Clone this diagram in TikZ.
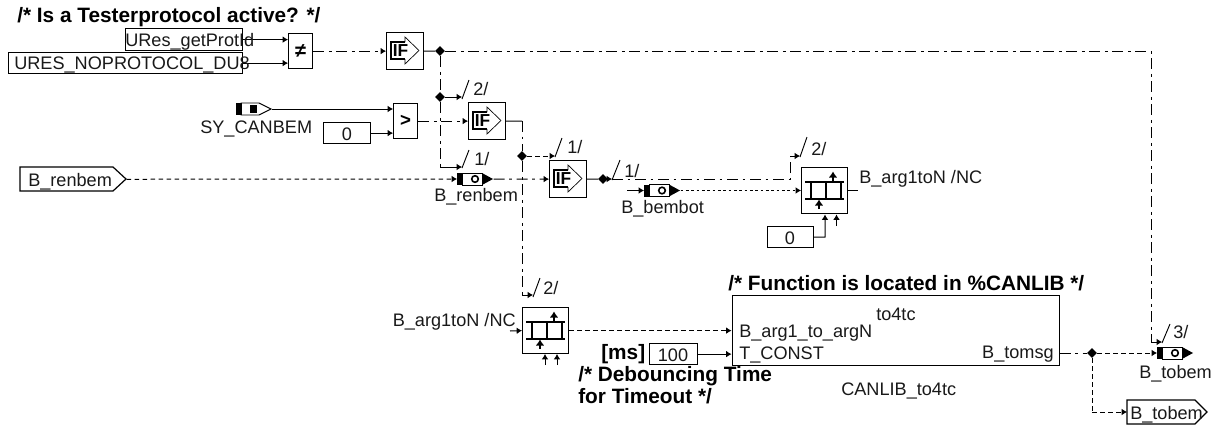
\documentclass[tikz,border=0pt]{standalone}
\usepackage{fontspec}
\setmainfont{Liberation Sans}
\usetikzlibrary{arrows.meta,shapes.geometric}
\tikzset{
  px/.style={x=0.75pt,y=-0.75pt},
  wire/.style={line width=0.75pt,draw=black},
  dd/.style={wire,dash pattern=on 8.25pt off 3.5pt on 2pt off 3.5pt},
  das/.style={wire,dash pattern=on 3.5pt off 2.5pt},
  dot/.style={wire,dash pattern=on 2pt off 2pt},
  tip/.style={-{Latex[length=4pt,width=5pt]}},
  box/.style={draw=black,line width=0.9pt,fill=white,inner sep=0pt,rectangle},
  txt/.style={inner sep=0pt,anchor=base west,font=\fontsize{13.6}{16}\selectfont,text=black!90},
  txr/.style={txt,anchor=base east},
  txc/.style={inner sep=0pt,font=\fontsize{13.6}{16}\selectfont,text=black!90},
  bld/.style={txt,font=\fontsize{15.6}{18}\selectfont\bfseries,text=black},
  jn/.style={diamond,fill=black,inner sep=0pt,minimum size=7.5pt},
  slash/.style={line width=0.7pt,draw=black},
  portshape/.style={rectangle,inner sep=0pt,anchor=north west}
}
% IF block: name, left, top
\newcommand{\ifblk}[3]{%
  \node[box,minimum width=27.75pt,minimum height=27.75pt,anchor=north west] (#1) at (#2,#3) {};
  \begin{scope}[shift={(#2,#3)}]
    \draw[line width=0.5pt,draw=black,fill=white] (19,10) -- (19,5) -- (33,18.5) -- (19,32) -- (19,27);
    \draw[line width=1.1pt,draw=black] (19,10) -- (5,10) -- (5,27) -- (19,27);
    \node[inner sep=0pt,font=\fontsize{13}{14}\selectfont\bfseries] at (14.5,18.5) {IF};
  \end{scope}}
% map block: name, left, top
\newcommand{\mapblk}[3]{%
  \node[box,minimum width=34.5pt,minimum height=34.5pt,anchor=north west] (#1) at (#2,#3) {};
  \begin{scope}[shift={(#2,#3)}]
    \draw[line width=1.3pt] (4,15) -- (43,15) (4,32) -- (43,32);
    \draw[line width=1.2pt] (10,15) -- (10,32) (25,15) -- (25,32) (40,15) -- (40,32);
    \draw[line width=1.2pt,-{Latex[length=4.5pt,width=6.5pt]}] (32,15) -- (32,4.5);
    \draw[line width=1.2pt,-{Latex[length=4.5pt,width=6.5pt]}] (18,42) -- (18,32.5);
  \end{scope}}
% message symbol: name, left, centre y
\newcommand{\msgsym}[3]{%
  \node[inner sep=0pt,minimum width=27pt,minimum height=9pt,anchor=west] (#1) at (#2,#3) {};
  \begin{scope}[shift={(#2,#3)}]
    \draw[line width=0.7pt,fill=white] (5,-6) rectangle (25,6);
    \fill[black] (0,-6) rectangle (6,6);
    \fill[black] (25,-6) -- (36,0) -- (25,6) -- cycle;
    \draw[line width=1.2pt,fill=white] (18,0) circle (3.3);
  \end{scope}}
% system constant symbol: name, left, centre y
\newcommand{\sysym}[3]{%
  \node[inner sep=0pt,minimum width=26.5pt,minimum height=9pt,anchor=west] (#1) at (#2,#3) {};
  \begin{scope}[shift={(#2,#3)}]
    \draw[line width=0.7pt,fill=white] (5,-6) -- (23,-6) -- (35,0) -- (23,6) -- (5,6) -- cycle;
    \fill[black] (0,-6) rectangle (5.5,6);
    \fill[black] (14,-4) rectangle (21,4);
  \end{scope}}
\begin{document}
\begin{tikzpicture}[px]
\useasboundingbox (0,0) rectangle (1215,425);

% ---- blocks
\node[box,minimum width=87.75pt,minimum height=16.5pt,anchor=north west] (getprot) at (125,28) {};
\node[box,minimum width=175.5pt,minimum height=15.75pt,anchor=north west] (nopro) at (8,52) {};
\node[box,minimum width=18pt,minimum height=26.25pt,anchor=north west,font=\fontsize{15}{16}\selectfont\bfseries] (ne) at (288,33) {≠};
\ifblk{ifa}{386}{32}
\sysym{canbem}{236}{109}
\node[box,minimum width=35.25pt,minimum height=15.75pt,anchor=north west] (zeroa) at (323,122) {};
\node[box,minimum width=18pt,minimum height=26.25pt,anchor=north west,font=\fontsize{14}{16}\selectfont\bfseries] (gt) at (393,103) {>};
\ifblk{ifb}{468}{102}
\node[portshape,minimum width=79.5pt,minimum height=18pt] (renbem) at (20,167) {};
\msgsym{renmsg}{457}{179}
\ifblk{ifc}{549}{160}
\msgsym{bembot}{644}{190.5}
\mapblk{mapa}{801}{167}
\node[box,minimum width=34.5pt,minimum height=15.75pt,anchor=north west] (zerob) at (767,226) {};
\mapblk{mapb}{522}{307}
\node[box,minimum width=245.25pt,minimum height=52.5pt,anchor=north west] (tofour) at (731.5,295) {};
\node[box,minimum width=36pt,minimum height=15.75pt,anchor=north west] (hundred) at (649,343) {};
\msgsym{tobem}{1157}{353}
\node[portshape,minimum width=60pt,minimum height=18pt] (tobemout) at (1127,400) {};

% input / output port outlines
\draw[box] (20,167) -- (113,167) -- (126,179) -- (113,191) -- (20,191) -- cycle;
\draw[box] (1127,400) -- (1195,400) -- (1207,412) -- (1195,424) -- (1127,424) -- cycle;

% ---- junctions and free ends
\node[jn] (ja) at (440,51) {};
\node[jn] (jb) at (440,97) {};
\node[jn] (jc) at (522,156) {};
\node[jn] (jd) at (603,179) {};
\node[jn] (je) at (1092,353) {};
\coordinate (e2a) at (462,97);
\coordinate (e1a) at (462,167);
\coordinate (c1a) at (440,167);
\coordinate (e1b) at (555,156);
\coordinate (e1c) at (612,179);
\coordinate (c2m) at (790,179);
\coordinate (e2m) at (800,156);
\coordinate (c2n) at (790,156);
\coordinate (cr) at (522,121);
\coordinate (c2b) at (522,295);
\coordinate (e2b) at (533,295);
\coordinate (ctop) at (1151,51);
\coordinate (ctopd) at (1151,342);
\coordinate (e3) at (1162,342);
\coordinate (sbem) at (627,190.5);
\coordinate (mout) at (858,190.5);
\coordinate (bin) at (510,331);
\coordinate (ce) at (1092,412);
\coordinate (cz) at (825,237);
\coordinate (ua) at (825,214.5);
\coordinate (ub) at (836.5,226);
\coordinate (uc) at (836.5,214.5);
\coordinate (ud) at (545,365);
\coordinate (ue) at (545,354);
\coordinate (uf) at (557,365);
\coordinate (ug) at (557,354);

% ---- connectors
\draw[wire,tip] (getprot.east) -- (ne.west |- getprot.east);
\draw[wire,tip] (nopro.east) -- (ne.west |- nopro.east);
\draw[dd,tip] (ne.east) -- (ifa.west);
\draw[wire] (ifa.east) -- (ja);
\draw[dd] (ja) -- (ctop) -- (ctopd);
\draw[wire,tip] (ctopd) -- (e3);
\draw[dd] (ja) -- (jb);
\draw[wire,tip] (jb) -- (e2a);
\draw[dd] (jb) -- (c1a);
\draw[wire,tip] (c1a) -- (e1a);
\draw[wire,tip] (canbem.east) -- (gt.west |- canbem.east);
\draw[wire,tip] (zeroa.east) -- (gt.west |- zeroa.east);
\draw[dd,tip] (gt.east) -- (ifb.west);
\draw[wire] (ifb.east) -- (cr);
\draw[dd] (cr) -- (jc);
\draw[dd] (jc) -- (c2b);
\draw[wire,tip] (c2b) -- (e2b);
\draw[das,tip] (jc) -- (e1b);
\draw[das,tip] (renbem.east) -- (renmsg.west);
\draw[dd,tip] (renmsg.east) -- (ifc.west);
\draw[wire] (ifc.east) -- (jd);
\draw[wire,tip] (jd) -- (e1c);
\draw[dd] (e1c) -- (c2m) -- (c2n);
\draw[wire,tip] (c2n) -- (e2m);
\draw[wire,tip] (sbem) -- (bembot.west);
\draw[dot,tip] (bembot.east) -- (mapa.west |- bembot.east);
\draw[wire] (mapa.east |- mout) -- (mout);
\draw[wire,tip] (zerob.east) -- (cz) -- (ua);
\draw[wire,tip] (ub) -- (uc);
\draw[wire,tip] (bin) -- (mapb.west);
\draw[wire,tip] (ud) -- (ue);
\draw[wire,tip] (uf) -- (ug);
\draw[das,tip] (mapb.east) -- (tofour.west |- mapb.east);
\draw[wire,tip] (hundred.east) -- (tofour.west |- hundred.east);
\draw[dd] (tofour.east |- je) -- (je);
\draw[das,tip] (je) -- (tobem.west);
\draw[das] (je) -- (ce);
\draw[das,tip] (ce) -- (tobemout.west |- ce);

% ---- bus slashes
\draw[slash] (462,99) -- (469,80) (462,168) -- (469,150) (555,157) -- (562,138) (612,180) -- (620,160) (800,157) -- (807,137) (533,297) -- (540,278) (1162,343) -- (1170,324);

% ---- texts
\node[bld] (t1) at (17,22) {/* Is a Testerprotocol active? */};
\node[txt] (t2) at (125,46) {URes\_getProtId};
\node[txt] (t3) at (14,69) {URES\_NOPROTOCOL\_DU8};
\node[txt] (t4) at (200,133) {SY\_CANBEM};
\node[txc] (t5) at (347,134) {0};
\node[txt] (t6) at (28,186) {B\_renbem};
\node[txt] (t7) at (434,201) {B\_renbem};
\node[txt] (t8) at (621,213) {B\_bembot};
\node[txt] (t9) at (859,183) {B\_arg1toN /NC};
\node[txc] (t10) at (790,238) {0};
\node[txr] (t11) at (516,326) {B\_arg1toN /NC};
\node[bld] (t12) at (728,290) {/* Function is located in \%CANLIB */};
\node[txt] (t13) at (876,320) {to4tc};
\node[txt] (t14) at (739,337) {B\_arg1\_to\_argN};
\node[txt] (t15) at (739,359) {T\_CONST};
\node[txr] (t16) at (1054,358) {B\_tomsg};
\node[txt] (t17) at (841,395) {CANLIB\_to4tc};
\node[txc] (t18) at (673,355) {100};
\node[bld] (t19) at (601,359) {[ms]};
\node[bld] (t20) at (578,381) {/* Debouncing Time};
\node[bld] (t21) at (578,403) {for Timeout */};
\node[txt] (t22) at (1139,378) {B\_tobem};
\node[txt] (t23) at (1130,419) {B\_tobem};
\node[txt] (s1) at (473,95) {2/};
\node[txt] (s2) at (474,165) {1/};
\node[txt] (s3) at (567,153) {1/};
\node[txt] (s4) at (624,177) {1/};
\node[txt] (s5) at (811,155) {2/};
\node[txt] (s6) at (543,294) {2/};
\node[txt] (s7) at (1173,338) {3/};
\end{tikzpicture}
\end{document}
